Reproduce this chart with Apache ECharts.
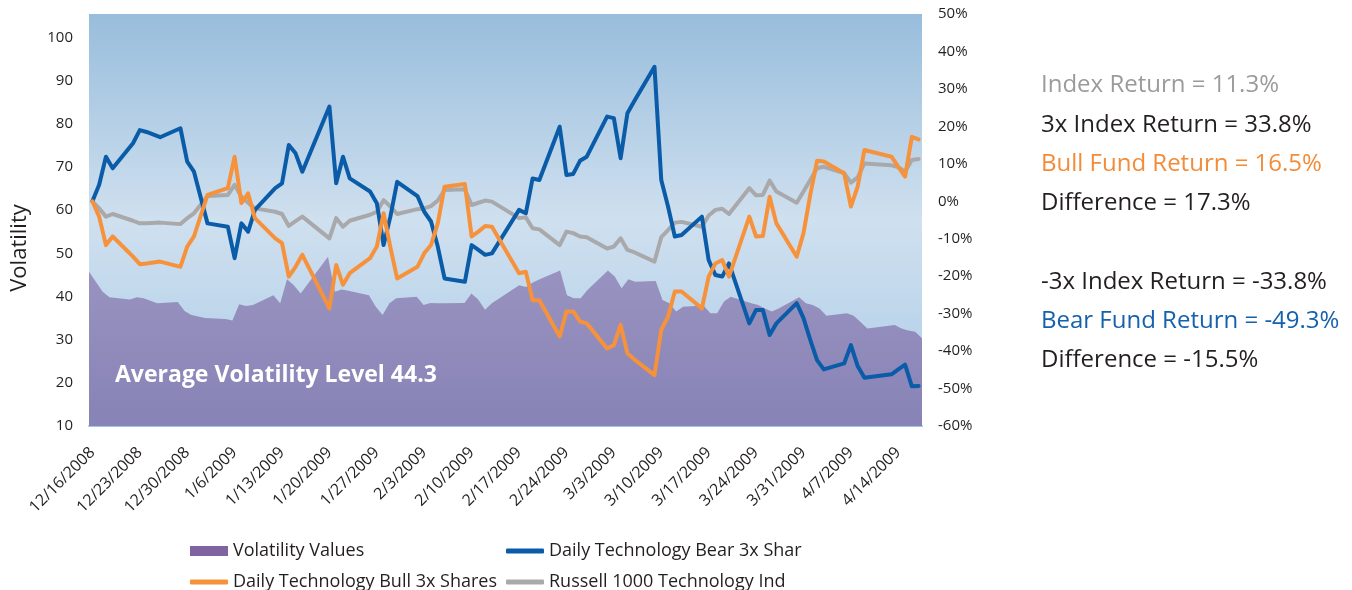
<!DOCTYPE html>
<html><head><meta charset="utf-8">
<script src="https://cdn.jsdelivr.net/npm/echarts@6/dist/echarts.min.js"></script>
<style>html,body{margin:0;padding:0;background:#fff}#c{width:1352px;height:590px}</style>
</head><body><div id="c"></div>
<script>
// ---- data (trading days) ----
const tradingDates = [
"2008-12-16","2008-12-17","2008-12-18","2008-12-19","2008-12-22","2008-12-23","2008-12-24","2008-12-26","2008-12-29","2008-12-30","2008-12-31",
"2009-01-02","2009-01-05","2009-01-06","2009-01-07","2009-01-08","2009-01-09","2009-01-12","2009-01-13","2009-01-14","2009-01-15","2009-01-16","2009-01-20","2009-01-21","2009-01-22","2009-01-23","2009-01-26","2009-01-27","2009-01-28","2009-01-29","2009-01-30",
"2009-02-02","2009-02-03","2009-02-04","2009-02-05","2009-02-06","2009-02-09","2009-02-10","2009-02-11","2009-02-12","2009-02-13","2009-02-17","2009-02-18","2009-02-19","2009-02-20","2009-02-23","2009-02-24","2009-02-25","2009-02-26","2009-02-27",
"2009-03-02","2009-03-03","2009-03-04","2009-03-05","2009-03-06","2009-03-09","2009-03-10","2009-03-11","2009-03-12","2009-03-13","2009-03-16","2009-03-17","2009-03-18","2009-03-19","2009-03-20","2009-03-23","2009-03-24","2009-03-25","2009-03-26","2009-03-27","2009-03-30","2009-03-31",
"2009-04-01","2009-04-02","2009-04-03","2009-04-06","2009-04-07","2009-04-08","2009-04-09","2009-04-13","2009-04-14","2009-04-15","2009-04-16","2009-04-17"];

const volatility = [
45.7,43.4,41.1,39.8,39.3,39.8,39.6,38.4,38.7,36.6,35.7,
35.0,34.8,34.4,38.2,37.8,38.0,40.3,38.4,44.0,42.6,40.7,49.2,41.1,41.6,41.3,40.3,37.6,35.7,38.4,39.6,
39.9,38.0,38.5,38.4,38.4,38.5,40.7,39.3,36.9,38.4,42.6,42.2,43.2,44.0,46.0,40.3,39.6,39.6,41.5,
46.0,44.6,41.9,44.0,43.4,43.6,39.2,38.4,36.5,37.6,37.9,36.1,36.1,38.8,39.9,38.4,38.0,37.2,36.5,37.2,39.8,38.4,
38.0,37.2,35.5,36.1,35.5,34.1,32.6,33.4,32.6,32.1,31.8,30.3];

const bearReturn = [
0,4.4,11.9,8.8,15.5,19.0,18.5,17.1,19.5,10.6,7.9,
-5.9,-6.8,-15.2,-5.9,-8.1,-2.3,3.5,4.8,15.0,12.8,7.9,25.3,4.8,11.9,6.1,2.6,-0.5,-11.7,-4.1,5.2,
1.4,-2.8,-5.4,-12.1,-20.6,-21.5,-11.7,-13.0,-14.3,-13.9,-2.3,-3.2,6.1,5.7,19.9,7.0,7.3,10.8,11.9,
22.6,22.2,11.5,23.5,26.7,35.9,5.7,-1.4,-9.4,-9.0,-4.1,-15.7,-19.7,-20.1,-16.6,-32.6,-29.0,-29.0,-35.7,-32.6,-27.2,-31.2,
-37.0,-42.4,-44.9,-43.3,-38.4,-44.0,-47.1,-46.2,-44.9,-43.6,-49.4,-49.3];

const bullReturn = [
0,-4.1,-11.7,-9.4,-14.8,-16.8,-16.6,-16.1,-17.5,-12.1,-9.4,
1.7,3.5,11.9,-0.5,2.1,-4.5,-9.9,-11.2,-20.1,-17.5,-14.3,-28.6,-17.0,-22.3,-19.2,-15.2,-12.1,-3.2,-12.3,-20.6,
-17.5,-13.9,-11.7,-5.9,3.9,4.6,-9.4,-8.1,-6.6,-6.8,-19.2,-18.8,-26.4,-26.4,-36.1,-29.4,-29.4,-32.1,-32.6,
-39.3,-38.4,-33.0,-40.6,-42.2,-46.4,-34.3,-30.8,-24.1,-24.1,-28.6,-20.1,-16.6,-15.7,-20.1,-4.1,-9.4,-9.3,1.2,-5.9,-14.8,-8.5,
1.7,10.8,10.6,7.5,-1.4,3.9,13.7,11.9,9.2,6.6,17.2,16.5];

const indexReturn = [
0,-1.9,-4.1,-3.4,-5.2,-5.9,-5.9,-5.7,-6.1,-4.5,-3.2,
1.4,1.7,4.4,1.2,-0.4,-1.9,-2.8,-3.4,-6.6,-5.3,-4.1,-9.9,-4.5,-6.8,-5.2,-3.6,-2.8,0.3,-1.4,-3.4,
-2.1,-1.9,-1.3,0.2,3.0,3.2,-1.0,-0.4,0.2,-0.1,-4.5,-4.3,-7.2,-7.5,-11.7,-8.1,-8.5,-9.4,-9.6,
-12.6,-12.1,-9.9,-13.0,-13.6,-16.1,-9.6,-7.7,-5.7,-5.5,-6.8,-3.8,-2.3,-2.0,-3.4,3.5,1.6,1.7,5.5,2.6,-0.4,2.6,
5.7,8.8,9.2,7.5,5.0,6.4,10.1,9.6,9.1,7.9,11.0,11.3];

const seriesNames = ["Volatility Values","Daily Technology Bear 3x Shares","Daily Technology Bull 3x Shares","Russell 1000 Technology Index"];
const averageLabel = "Average Volatility Level 44.3";
const summaryLines = [
  {text:"Index Return = 11.3%", color:"#9b9b9b"},
  {text:"3x Index Return = 33.8%", color:"#231f20"},
  {text:"Bull Fund Return = 16.5%", color:"#f28c38"},
  {text:"Difference = 17.3%", color:"#231f20"},
  {text:"-3x Index Return = -33.8%", color:"#231f20"},
  {text:"Bear Fund Return = -49.3%", color:"#1461ad"},
  {text:"Difference = -15.5%", color:"#231f20"}];
const summaryY = [84,124,163,202,281,320,359];

// ---- build calendar axis (Excel-like date axis) ----
const DAY = 86400000;
function parse(s){const p=s.split('-').map(Number);return Date.UTC(p[0],p[1]-1,p[2]);}
const t0 = parse(tradingDates[0]), t1 = parse(tradingDates[tradingDates.length-1]);
const nDays = Math.round((t1-t0)/DAY)+1;
const calendar = [];
for(let i=0;i<nDays;i++){const d=new Date(t0+i*DAY);calendar.push((d.getUTCMonth()+1)+'/'+d.getUTCDate()+'/'+d.getUTCFullYear());}
function onCalendar(vals){const out=new Array(nDays).fill(null);tradingDates.forEach((s,i)=>{out[Math.round((parse(s)-t0)/DAY)]=vals[i];});return out;}

const FONT = '"Open Sans", "Noto Sans", sans-serif';
const TXT = '#231f20';
const chart = echarts.init(document.getElementById('c'), null, {renderer:'canvas'});

const lineCommon = (color)=>({type:'line', xAxisIndex:0, yAxisIndex:1, symbol:'none', connectNulls:true,
  lineStyle:{width:4, color:color, cap:'round', join:'round'}, itemStyle:{color:color}, emphasis:{disabled:true}});

const legendBase = {orient:'horizontal', padding:0, itemWidth:38, selectedMode:false,
  textStyle:{fontFamily:FONT, fontSize:18, color:TXT}};

chart.setOption({
  animation:false,
  grid:{left:89, right:430, top:14, bottom:164, show:true, borderWidth:0,
    backgroundColor:new echarts.graphic.LinearGradient(0,0,0,1,[
      {offset:0,color:'#98bddc'},{offset:0.5,color:'#cfe0ef'},{offset:1,color:'#abcbe7'}])},
  xAxis:[
    {type:'category', data:calendar, boundaryGap:true,
     axisTick:{show:false}, axisLine:{show:true, onZero:false, lineStyle:{color:'#a3c6e6', width:2}},
     splitLine:{show:false},
     axisLabel:{interval:6, rotate:45, fontFamily:FONT, fontSize:16, color:TXT, margin:24}},
    {type:'category', data:calendar, boundaryGap:false, show:false, axisLine:{onZero:false}}
  ],
  yAxis:[
    {type:'value', min:10, max:105.4, interval:10, position:'left',
     name:'Volatility', nameLocation:'middle', nameGap:58, nameRotate:90,
     nameTextStyle:{fontFamily:FONT, fontSize:22, color:TXT, padding:[0,56,0,0]},
     axisLine:{show:false}, axisTick:{show:false}, splitLine:{show:false},
     axisLabel:{showMaxLabel:false, fontFamily:FONT, fontSize:15, color:TXT, margin:16}},
    {type:'value', min:-60, max:50, interval:10, position:'right',
     axisLine:{show:false}, axisTick:{show:false}, splitLine:{show:false},
     axisLabel:{formatter:'{value}%', fontFamily:FONT, fontSize:15, color:TXT, margin:16}}
  ],
  legend:[
    Object.assign({}, legendBase, {left:190, top:542, itemHeight:10,
      data:[{name:seriesNames[0], icon:'rect'}]}),
    Object.assign({}, legendBase, {left:506, top:542, itemHeight:5,
      data:[{name:seriesNames[1], icon:'roundRect', textStyle:{width:258, overflow:'truncate', ellipsis:''}}]}),
    Object.assign({}, legendBase, {left:190, top:573, itemHeight:5,
      data:[{name:seriesNames[2], icon:'roundRect'}]}),
    Object.assign({}, legendBase, {left:506, top:573, itemHeight:5,
      data:[{name:seriesNames[3], icon:'roundRect', textStyle:{width:246, overflow:'truncate', ellipsis:''}}]})
  ],
  series:[
    {name:seriesNames[0], type:'line', xAxisIndex:1, yAxisIndex:0, symbol:'none', connectNulls:true,
     data:onCalendar(volatility), lineStyle:{width:0}, itemStyle:{color:'#8064a2'},
     areaStyle:{opacity:1, color:new echarts.graphic.LinearGradient(0,0,0,1,[
       {offset:0,color:'#9b94c1'},{offset:1,color:'#8783b6'}])}, emphasis:{disabled:true}, z:1},
    Object.assign(lineCommon('#a9a9ab'), {name:seriesNames[3], data:onCalendar(indexReturn), z:2}),
    Object.assign(lineCommon('#0a5ca8'), {name:seriesNames[1], data:onCalendar(bearReturn), z:3}),
    Object.assign(lineCommon('#f7923c'), {name:seriesNames[2], data:onCalendar(bullReturn), z:4})
  ],
  graphic:[
    {type:'text', left:115, top:364, z:10, style:{text:averageLabel, fill:'#ffffff', font:'bold 23px '+FONT}}
  ].concat(summaryLines.map((l,i)=>({type:'text', left:1041, top:summaryY[i]-11,
      style:{text:l.text, fill:l.color, font:'24px '+FONT}})))
});
</script></body></html>
